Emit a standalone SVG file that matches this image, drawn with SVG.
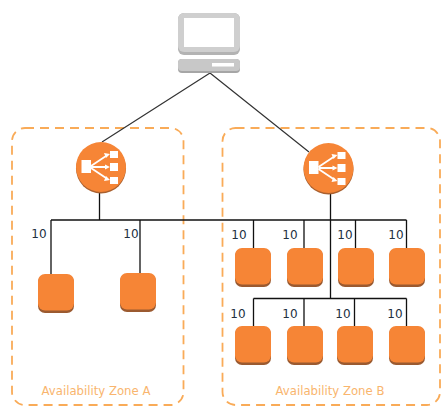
<svg xmlns="http://www.w3.org/2000/svg" width="446" height="413" viewBox="0 0 446 413">
<style>
.zone{fill:none;stroke:#f9ab58;stroke-width:1.800;stroke-dasharray:9 6}
.zt{font:11.700px "DejaVu Sans",sans-serif;fill:#f9b56e;text-anchor:middle}
.n{font:12px "DejaVu Sans",sans-serif;fill:#22303f;text-anchor:middle}
.ln{fill:none;stroke:#111;stroke-width:1.300}
.dg{fill:none;stroke:#333;stroke-width:1.200}
.i1{fill:#9b5a30}.i2{fill:#f68536}
.w{fill:#fff}.ws{stroke:#fff;stroke-width:1.800;fill:none}
</style>
<defs>
<g id="inst"><rect x="0" y="1" width="36" height="38" rx="7" class="i1"/><rect x="0" y="0" width="36" height="36.500" rx="7" class="i2"/></g>
<g id="lb">
<circle cx="0" cy="1.500" r="25" fill="#a9602f"/><circle cx="0" cy="0" r="25" fill="#f68536"/>
<rect x="-19.500" y="-7" width="9.500" height="13" class="w"/>
<rect x="9" y="-16" width="8" height="7" class="w"/>
<rect x="9" y="-4" width="8" height="8" class="w"/>
<rect x="9" y="10" width="8" height="7" class="w"/>
<path d="M-10 -1 L5 -11 M-10 0 L5 0 M-10 1 L5 11" class="ws"/>
<path d="M9 -13 L3 -14 L5 -9 Z M9 0 L4 -2.500 L4 2.500 Z M9 13 L3 14 L5 9 Z" class="w"/>
</g>
</defs>
<g id="zone-a"><rect x="12" y="128" width="171.500" height="277" rx="13" class="zone"/><text x="96" y="395" class="zt">Availability Zone A</text></g>
<g id="zone-b"><rect x="222.500" y="128" width="217.500" height="277" rx="13" class="zone"/><text x="330" y="395" class="zt">Availability Zone B</text></g>
<g id="connectors">
<path d="M210 73 L102 142 M210 73 L309 152" class="dg"/>
<path d="M99.500 192 V220 M330.500 192 V298.500 M51 220 H406.500 M51 220 V274 M140 220 V273 M253.500 220 V248 M304 220 V248 M355.500 220 V248 M406.500 220 V248 M253.500 298.500 H406.500 M253.500 298.500 V326 M304 298.500 V326 M354.500 298.500 V326 M406.500 298.500 V326" class="ln"/>
</g>
<g id="client">
<rect x="178" y="13" width="62" height="42" rx="6" fill="#b3b3b3"/>
<rect x="178" y="13" width="62" height="39" rx="6" fill="#cfcfcf"/>
<rect x="184" y="18" width="50" height="29" fill="#fff"/>
<rect x="178" y="59" width="62" height="14" rx="4" fill="#a6a6a6"/>
<rect x="178" y="59" width="62" height="12" rx="4" fill="#c8c8c8"/>
<rect x="212" y="63" width="22" height="3.500" fill="#fff"/>
</g>
<g id="lb-a"><use href="#lb" x="101" y="167"/></g>
<g id="lb-b"><use href="#lb" x="328.500" y="168"/></g>
<g id="inst-a1"><use href="#inst" x="38" y="274"/></g>
<g id="inst-a2"><use href="#inst" x="120" y="273"/></g>
<g id="inst-b1"><use href="#inst" x="235" y="248"/></g>
<g id="inst-b2"><use href="#inst" x="287" y="248"/></g>
<g id="inst-b3"><use href="#inst" x="338" y="248"/></g>
<g id="inst-b4"><use href="#inst" x="389" y="248"/></g>
<g id="inst-b5"><use href="#inst" x="235" y="326"/></g>
<g id="inst-b6"><use href="#inst" x="287" y="326"/></g>
<g id="inst-b7"><use href="#inst" x="337" y="326"/></g>
<g id="inst-b8"><use href="#inst" x="389" y="326"/></g>
<g id="labels">
<text x="39" y="238" class="n">10</text><text x="131" y="238" class="n">10</text>
<text x="239" y="239" class="n">10</text><text x="290" y="239" class="n">10</text><text x="345" y="239" class="n">10</text><text x="396" y="239" class="n">10</text>
<text x="238" y="318" class="n">10</text><text x="290" y="318" class="n">10</text><text x="343" y="318" class="n">10</text><text x="395" y="318" class="n">10</text>
</g>
</svg>
